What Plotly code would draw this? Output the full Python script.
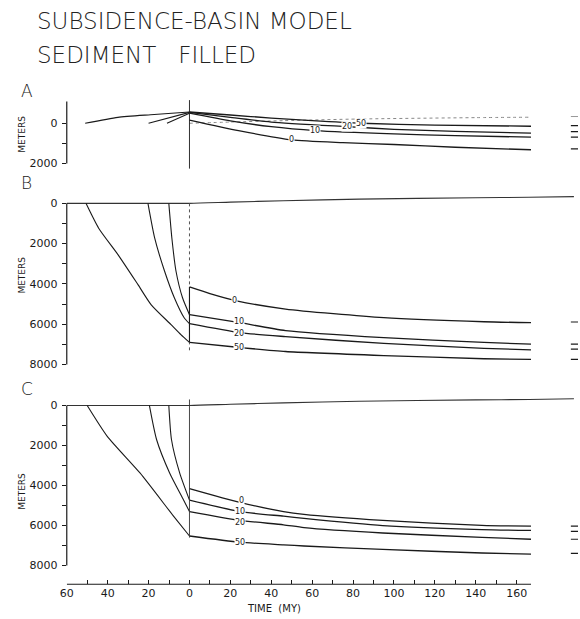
import numpy as np
import plotly.graph_objects as go

FONT = "DejaVu Sans"
INK = "#1a1a1a"

# ---------------- time axis ----------------
X_TICKVALS = list(range(-60, 161, 10))
X_TICKTEXT = [str(abs(v)) if v % 20 == 0 else "" for v in X_TICKVALS]
RIFT_LABELS = ["0", "10", "20", "50"]

# surface line (all panels)
TOP_T = [-60, 0, 20, 46, 83, 140, 166, 188]
TOP_D = [0, 0, -60, -130, -212, -280, -300, -335]

# ---------------- panel A ----------------
A50_PRE_T = [-51, -35, -19, 0]
A50_PRE_D = [0, -295, -425, -560]
A20_PRE_T = [-20, 0]
A20_PRE_D = [0, -540]
A10_PRE_T = [-11, 0]
A10_PRE_D = [0, -500]

A0_T = [0, 24, 50, 75, 100, 130, 167]
A0_D = [-160, 364, 822, 960, 1054, 1190, 1315]
A10_T = [0, 20, 40, 61.5, 100, 130, 167]
A10_D = [-500, -120, 170, 364, 527, 610, 690]
A20_T = [0, 20, 40, 77, 100, 130, 167]
A20_D = [-540, -290, -60, 167, 300, 400, 493]
A50_T = [0, 20, 40, 60, 84, 120, 167]
A50_D = [-560, -410, -260, -130, 0, 90, 148]
A_EQ = [1266, 690, 414, 118]
A_LABEL_T = [50, 61.5, 77, 84]

# ---------------- panel B ----------------
B50_PRE_T = [-50.6, -44.4, -34.8, -25.1, -18.7, -9, -4.2, 0]
B50_PRE_D = [0, 1235, 2570, 4050, 5040, 6025, 6520, 6910]
B20_PRE_T = [-20.3, -17, -12.2, -7.4, -2.6, 0]
B20_PRE_D = [0, 1730, 3360, 4690, 5680, 5975]
B10_PRE_T = [-10.1, -8.6, -6.6, -3.4, 0]
B10_PRE_D = [0, 1730, 3360, 4690, 5530]

B0_T = [0, 10, 23, 47, 95, 144, 167]
B0_D = [4150, 4480, 4840, 5250, 5680, 5880, 5926]
B10_T = [0, 24.6, 47, 95, 144, 167]
B10_D = [5530, 5930, 6320, 6670, 6910, 6996]
B20_T = [0, 24.6, 47, 95, 144, 167]
B20_D = [5975, 6420, 6620, 6960, 7200, 7274]
B50_T = [0, 24.6, 47, 95, 144, 167]
B50_D = [6910, 7160, 7360, 7560, 7720, 7753]
B_EQ = [5893, 6996, 7243, 7753]
B_LABEL_T = [22, 24, 24, 24]

# ---------------- panel C ----------------
C50_PRE_T = [-50, -40.2, -24.2, -8, 0]
C50_PRE_D = [0, 1540, 3370, 5500, 6520]
C20_PRE_T = [-19.6, -16.1, -9.7, -3.2, 0]
C20_PRE_D = [0, 1700, 3370, 4660, 5300]
C10_PRE_T = [-10.1, -8.8, -4.8, 0]
C10_PRE_D = [0, 1700, 3370, 4730]

C0_T = [0, 24.6, 46, 56, 94.5, 143, 167]
C0_D = [4150, 4840, 5300, 5440, 5740, 5990, 6026]
C10_T = [0, 24.6, 46, 56, 94.5, 143, 167]
C10_D = [4730, 5300, 5530, 5640, 6000, 6200, 6240]
C20_T = [0, 24.6, 46, 56, 94.5, 143, 167]
C20_D = [5300, 5740, 5960, 6100, 6370, 6590, 6683]
C50_T = [0, 24.6, 46, 56, 94.5, 143, 167]
C50_D = [6520, 6830, 6960, 7020, 7190, 7370, 7425]
C_EQ = [6026, 6288, 6683, 7390]
C_LABEL_T = [25.5, 24.6, 24.6, 24.6]

EQ_T = [186.5, 190]

# ---------------- geometry ----------------
W, H = 580, 619
X_RANGE = [-60, 190]
X_DOM = [60.5 / W, 578.0 / W]
A_RANGE = [2300, -1200]
B_RANGE = [8100, -400]
C_RANGE = [8930, -400]
A_DOM = [1 - 171.0 / H, 1 - 99.9 / H]
B_DOM = [1 - 369.4 / H, 1 - 196.9 / H]
C_DOM = [1 - 589.0 / H, 1 - 400.7 / H]
LABEL_SHIFT = {"": [0, 0, 0, 0], "2": [0, 1, -1, 0], "3": [2, 0, -2, 0]}

fig = go.Figure()


def line(xs, ys, ax, width=1.2, dash="solid", color=INK):
    fig.add_trace(go.Scatter(
        x=xs, y=ys, mode="lines", xaxis="x" + ax, yaxis="y" + ax,
        line=dict(color=color, width=width, dash=dash, shape="spline", smoothing=0.6),
        hoverinfo="skip", showlegend=False))


panels = {
    "": dict(pre=[(A10_PRE_T, A10_PRE_D), (A20_PRE_T, A20_PRE_D), (A50_PRE_T, A50_PRE_D)],
             post=[(A0_T, A0_D), (A10_T, A10_D), (A20_T, A20_D), (A50_T, A50_D)],
             eq=A_EQ, lab=A_LABEL_T),
    "2": dict(pre=[(B10_PRE_T, B10_PRE_D), (B20_PRE_T, B20_PRE_D), (B50_PRE_T, B50_PRE_D)],
              post=[(B0_T, B0_D), (B10_T, B10_D), (B20_T, B20_D), (B50_T, B50_D)],
              eq=B_EQ, lab=B_LABEL_T),
    "3": dict(pre=[(C10_PRE_T, C10_PRE_D), (C20_PRE_T, C20_PRE_D), (C50_PRE_T, C50_PRE_D)],
              post=[(C0_T, C0_D), (C10_T, C10_D), (C20_T, C20_D), (C50_T, C50_D)],
              eq=C_EQ, lab=C_LABEL_T),
}

annotations = []
shapes = []

for ax, p in panels.items():
    # surface line
    if ax == "":
        keep = [(t, d) for t, d in zip(TOP_T, TOP_D) if -52 <= t <= 166]
        line([k[0] for k in keep], [k[1] for k in keep], ax, width=1, dash="dot", color="#888888")
        line(EQ_T, [TOP_D[-1]] * 2, ax, width=1, color="#999999")
    else:
        line(TOP_T, TOP_D, ax, width=1.1, color="#333333")
    for t, d in p["pre"]:
        line(t, d, ax, width=1.1)
    for (t, d), lab, lt, ys in zip(p["post"], RIFT_LABELS, p["lab"], LABEL_SHIFT[ax]):
        line(t, d, ax, width=1.3)
        annotations.append(dict(
            x=lt, y=float(np.interp(lt, t, d)), xref="x" + ax, yref="y" + ax, yshift=ys,
            text=lab, showarrow=False, bgcolor="white", borderpad=0,
            font=dict(family=FONT, size=8, color=INK)))
    for v in p["eq"]:
        line(EQ_T, [v, v], ax, width=1.2)

# time-zero lines and y axis lines
shapes.append(dict(type="line", xref="x", yref="y", x0=0, x1=0, y0=-1150, y1=2250,
                   line=dict(color=INK, width=0.9)))
shapes.append(dict(type="line", xref="x2", yref="y2", x0=0, x1=0, y0=0, y1=7300,
                   line=dict(color="#555555", width=1, dash="dot")))
shapes.append(dict(type="line", xref="x2", yref="y2", x0=0, x1=0, y0=B0_D[0], y1=B50_D[0],
                   line=dict(color=INK, width=1.1)))
shapes.append(dict(type="line", xref="x3", yref="y3", x0=0, x1=0, y0=-300, y1=6600,
                   line=dict(color="#333333", width=0.9)))

for ax, (y0, y1) in {"": (-1084, 2000), "2": (0, 8000), "3": (0, 8000)}.items():
    shapes.append(dict(type="line", xref="x" + ax + " domain", yref="y" + ax,
                       x0=0, x1=0, y0=y0, y1=y1, line=dict(color=INK, width=1.2)))

# bottom time axis line
shapes.append(dict(type="line", xref="x3", yref="y3 domain", x0=-60, x1=167, y0=0, y1=0,
                   line=dict(color=INK, width=1.2)))

# texts
annotations += [
    dict(x=28 / W, y=1 - 21 / H, xref="paper", yref="paper", xanchor="left", yanchor="middle",
         text="SUBSIDENCE-BASIN MODEL", showarrow=False,
         font=dict(family=FONT, size=23, color="#222222", weight=200)),
    dict(x=28 / W, y=1 - 55 / H, xref="paper", yref="paper", xanchor="left", yanchor="middle",
         text="SEDIMENT   FILLED", showarrow=False,
         font=dict(family=FONT, size=23, color="#222222", weight=200)),
    dict(x=270 / W, y=0, xref="paper", yref="paper", xanchor="center", yanchor="bottom",
         yshift=-2, text="TIME  (MY)", showarrow=False,
         font=dict(family=FONT, size=10, color=INK)),
]
for letter, ypx in [("A", 92), ("B", 184), ("C", 392)]:
    annotations.append(dict(x=20 / W, y=1 - ypx / H, xref="paper", yref="paper",
                            xanchor="center", yanchor="middle", text=letter, showarrow=False,
                            font=dict(family=FONT, size=17, color=INK, weight=200)))
for ypx in [135, 277, 495]:
    annotations.append(dict(x=15 / W, y=1 - ypx / H, xref="paper", yref="paper",
                            xanchor="center", yanchor="middle", text="METERS", textangle=-90,
                            showarrow=False, font=dict(family=FONT, size=9, color=INK)))

tick_font = dict(family=FONT, size=11, color=INK)


def yaxis(dom, rng, vals, anchor):
    return dict(domain=dom, range=rng, anchor=anchor, showgrid=False, zeroline=False,
                showline=False, ticks="outside", ticklen=4, tickwidth=1, tickcolor=INK,
                tickvals=vals, ticktext=[f"{v}" if v % 2000 == 0 else "" for v in vals],
                tickfont=tick_font, ticklabelstandoff=2)


def xaxis(show, anchor):
    d = dict(domain=X_DOM, range=X_RANGE, anchor=anchor, showgrid=False, zeroline=False,
             showline=False, tickfont=tick_font)
    if show:
        d.update(ticks="inside", ticklen=4, tickwidth=1, tickcolor=INK,
                 tickvals=X_TICKVALS, ticktext=X_TICKTEXT, showticklabels=True,
                 ticklabelstandoff=1)
    else:
        d.update(showticklabels=False, ticks="")
    return d


Y_VALS_A = [0, 1000, 2000]
Y_VALS = list(range(0, 8001, 1000))

fig.update_layout(
    width=W, height=H, margin=dict(l=0, r=0, t=0, b=0),
    paper_bgcolor="white", plot_bgcolor="white",
    font=dict(family=FONT, color=INK),
    xaxis=xaxis(False, "y"), xaxis2=xaxis(False, "y2"), xaxis3=xaxis(True, "y3"),
    yaxis=yaxis(A_DOM, A_RANGE, Y_VALS_A, "x"),
    yaxis2=yaxis(B_DOM, B_RANGE, Y_VALS, "x2"),
    yaxis3=yaxis(C_DOM, C_RANGE, Y_VALS, "x3"),
    annotations=annotations, shapes=shapes, showlegend=False,
)

fig.write_html("out.html")
